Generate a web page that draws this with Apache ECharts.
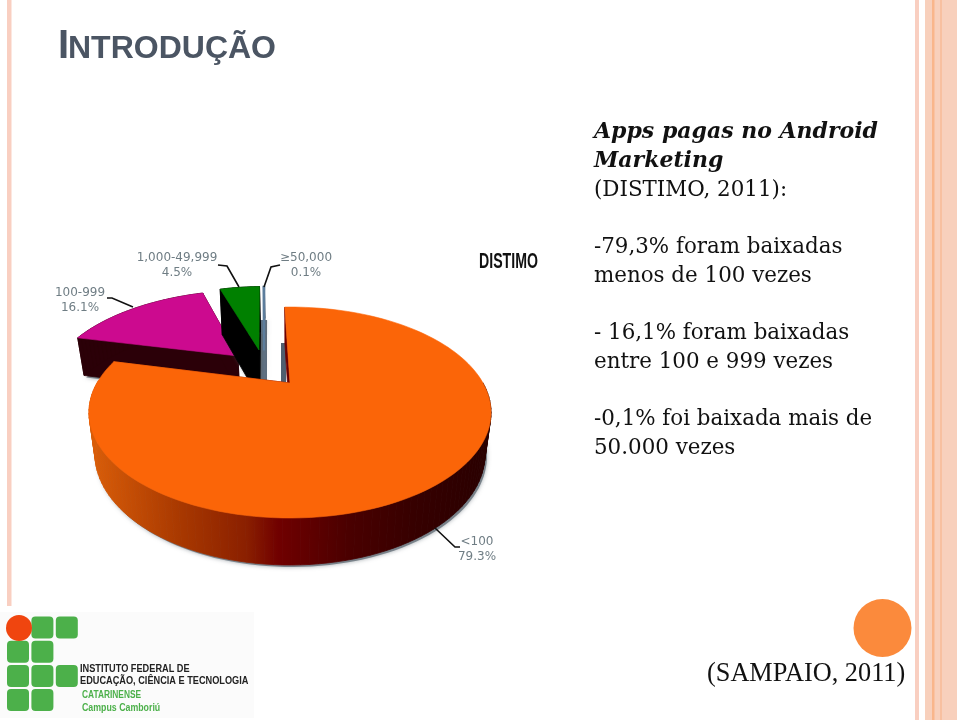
<!DOCTYPE html>
<html><head><meta charset="utf-8">
<style>html,body{margin:0;padding:0;background:#fff}#c{width:960px;height:720px}</style>
<script src="https://cdn.jsdelivr.net/npm/echarts@6/dist/echarts.min.js"></script>
</head><body><div id="c"></div>
<script>
// ---- chart data ----
const categories = ['<100', '100-999', '1,000-49,999', '\u226550,000'];
const shares = [79.3, 16.1, 4.5, 0.1];
// ---- slide text ----
const titleCap = 'I';
const titleRest = 'NTRODUÇÃO';
const headingLines = ['Apps pagas no Android', 'Marketing'];
const bodyLines = [
  ['(DISTIMO, 2011):', 190], ['-79,3% foram baixadas', 247], ['menos de 100 vezes', 276],
  ['- 16,1% foram baixadas', 333], ['entre 100 e 999 vezes', 362],
  ['-0,1% foi baixada mais de', 419], ['50.000 vezes', 448]
];
const citation = '(SAMPAIO, 2011)';
const sourceLogo = 'DISTIMO';
const logoLines = ['INSTITUTO FEDERAL DE', 'EDUCAÇÃO, CIÊNCIA E TECNOLOGIA', 'CATARINENSE', 'Campus Camboriú'];

// ---- styling / layout of the 3D pie ----
const C = {x: 290, y: 383}, A = 97.2, B = 193, K = 0.28, START = -2;
const TAU = Math.PI / 180;
const topColors = ['#fb6508', '#cc0a8f', '#008000', '#5c7d9c'];
const orangeWall = {type: 'linear', x: 95, y: 0, x2: 485, y2: 0, global: true, colorStops: [
  {offset: 0, color: '#d85c08'}, {offset: .22, color: '#a83800'}, {offset: .39, color: '#8a1f00'},
  {offset: .47, color: '#700000'}, {offset: .65, color: '#4a0000'}, {offset: .82, color: '#360000'}, {offset: 1, color: '#2a0000'}]};
const wallColors = [orangeWall, '#2b0008', '#000000', '#5f7183'];
const explode = [[0, 0], [-0.292, 0.301], [-0.1775, 0.375], [-0.149, 0.37]];
const depthScale = [1, 1, 1.3, 0.9];
const layers = [30, 10, 12, 14];
const labelPos = [[477, 542], [80, 293], [177, 258], [306, 258]];
const leaders = [
  [[435, 528], [455, 547], [460, 547]],
  [[133, 307], [112, 298], [107, 298]],
  [[239, 287], [227, 266], [218, 265]],
  [[264, 287], [271, 267], [280, 265]]
];

function project(u, v) {
  const w = 1 + K * v;
  return {w, x: B * u / w, y: -A * v / w};
}
function topPt(u, v) { const p = project(u, v); return [C.x + p.x, C.y + p.y]; }
function botPt(u, v, ds) {
  const p = project(u, v);
  return [C.x + p.x * 0.97, C.y + p.y + ds * (18 / p.w + 22)];
}
const cum = [];
shares.reduce((s, v, i) => { cum[i] = s; return s + v; }, 0);

function renderItem(params, api) {
  const i = params.dataIndex;
  const val = api.value(0);
  const a0 = START + cum[i] * 3.6;
  const a1 = a0 + val * 3.6;
  const [eu, ev] = explode[i];
  const ds = depthScale[i];
  const boundary = [[eu, ev]];
  const n = Math.max(2, Math.ceil((a1 - a0) / 2));
  for (let j = 0; j <= n; j++) {
    const a = (a0 + (a1 - a0) * j / n) * TAU;
    boundary.push([eu + Math.sin(a), ev + Math.cos(a)]);
  }
  const top = boundary.map(p => topPt(p[0], p[1]));
  const bot = boundary.map(p => botPt(p[0], p[1], ds));
  const z = layers[i];
  const children = [];
  if (i !== 0) {
    children.push({type: 'polygon', shape: {points: bot.map(p => [p[0] + 2, p[1] + 2])}, z2: z,
      style: {fill: 'rgba(95,105,115,0.75)', shadowBlur: 4, shadowColor: 'rgba(90,100,110,0.7)'}});
  } else {
    const front = bot.filter((p, j) => j > 0 && boundary[j][1] < 0.05).map(p => [p[0] + 2, p[1] + 2]);
    children.push({type: 'polygon', shape: {points: front}, z2: z,
      style: {fill: 'rgba(95,105,115,0.75)', shadowBlur: 4, shadowColor: 'rgba(90,100,110,0.7)'}});
  }
  for (let j = 0; j < top.length; j++) {
    const k = (j + 1) % top.length;
    // the back of the large slice is hidden by its own top face
    if (i === 0 && j > 0 && j < top.length - 1 && boundary[j][1] > 0 && boundary[k][1] > 0) continue;
    children.push({type: 'polygon', shape: {points: [top[j], top[k], bot[k], bot[j]]}, z2: z + 1,
      style: {fill: wallColors[i], stroke: wallColors[i], lineWidth: 0.8}});
  }
  children.push({type: 'polygon', shape: {points: top}, z2: z + 2,
    style: {fill: topColors[i], stroke: topColors[i], lineWidth: i === 3 ? 2 : 0.6}});
  children.push({type: 'polyline', shape: {points: leaders[i]}, z2: 40,
    style: {fill: 'none', stroke: '#111', lineWidth: 1.6}});
  const lp = labelPos[i];
  children.push({type: 'text', z2: 41, style: {
    text: categories[i] + '\n' + val.toFixed(1) + '%', x: lp[0], y: lp[1] - 8,
    align: 'center', verticalAlign: 'top', lineHeight: 15.5, fontFamily: 'DejaVu Sans', fontSize: 12, fill: '#6f7d84'}});
  return {type: 'group', children};
}

// ---- slide furniture ----
const g = [];
const rect = (x, y, w, h, fill, r) => g.push({type: 'rect', shape: {x, y, width: w, height: h, r: r || 0}, style: {fill}, z: 0});
rect(7, 0, 4.5, 606, '#f9cfc1');
rect(915, 0, 4, 720, '#f9cfc1');
rect(925, 0, 32, 720, '#f8d0bc');
rect(932, 0, 2.5, 720, '#f9b68c');
rect(940, 0, 2, 720, '#f8c0a0');
rect(0, 612, 254, 106, '#fbfbfb');
const gridCells = [[1, 0], [2, 0], [0, 1], [1, 1], [0, 2], [1, 2], [2, 2], [0, 3], [1, 3]];
gridCells.forEach(c => rect(7 + c[0] * 24.4, 616.5 + c[1] * 24.2, 22, 22, '#4cb04a', 4));
g.push({type: 'circle', shape: {cx: 19, cy: 628, r: 13}, style: {fill: '#f0450f'}});
g.push({type: 'circle', shape: {cx: 882.5, cy: 628, r: 29}, style: {fill: '#fb8a3c'}});
// wall shadow fragments behind the pie
g.push({type: 'rect', shape: {x: 260, y: 320, width: 7, height: 60}, style: {fill: '#5f7183'}, z: 1});
g.push({type: 'rect', shape: {x: 281, y: 343, width: 5, height: 40}, style: {fill: '#4f5f70'}, z: 1});

const text = (t, x, y, font, fill, sx, baseline) => g.push({type: 'text', z: 3, x, y, scaleX: sx || 1, style: {
  text: t, x: 0, y: 0, font, fill, verticalAlign: baseline || 'middle', align: 'left'}});
const titleColor = '#4b5563';
text(titleCap, 58, 67, 'bold 40px "Liberation Sans"', titleColor, 1, 'bottom');
text(titleRest, 68, 65.5, 'bold 32px "Liberation Sans"', titleColor, 1, 'bottom');
headingLines.forEach((t, i) => text(t, 594, 132 + i * 29, 'italic bold 22px "DejaVu Serif"', '#111'));
bodyLines.forEach(l => text(l[0], 594, l[1], '21.4px "DejaVu Serif"', '#111'));
text(citation, 707, 674, '26.3px "Liberation Serif"', '#111');
text(sourceLogo, 479, 262, 'bold 22px "Liberation Sans"', '#111', 0.643);
text(logoLines[0], 80, 669, 'bold 10.5px "Liberation Sans"', '#222', 0.875);
text(logoLines[1], 80, 681, 'bold 10.5px "Liberation Sans"', '#222', 0.875);
text(logoLines[2], 82, 695, 'bold 11px "Liberation Sans"', '#4cb04a', 0.76);
text(logoLines[3], 82, 708, 'bold 11px "Liberation Sans"', '#4cb04a', 0.8);

const chart = echarts.init(document.getElementById('c'), null, {renderer: 'canvas'});
chart.setOption({
  animation: false,
  backgroundColor: '#ffffff',
  graphic: g,
  series: [{
    type: 'custom', coordinateSystem: 'none', silent: true, z: 2,
    renderItem,
    data: categories.map((name, i) => ({name, value: [shares[i]]}))
  }]
});
</script></body></html>
